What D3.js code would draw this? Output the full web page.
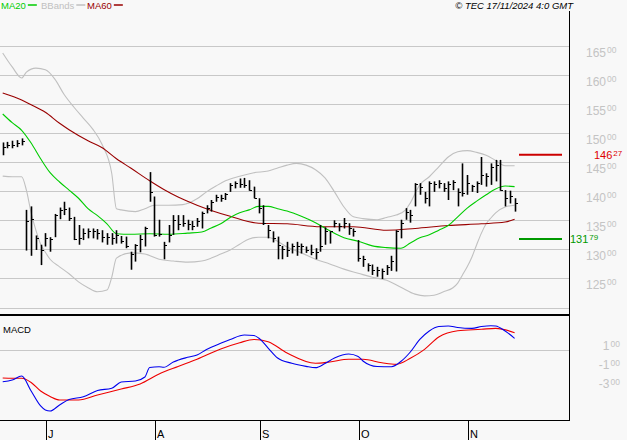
<!DOCTYPE html>
<html>
<head>
<meta charset="utf-8">
<script src="https://cdn.jsdelivr.net/npm/d3@7"></script>
<style>
  body { margin: 0; background: #f8f8f8; }
  text { font-family: "Liberation Sans", Arial, sans-serif; }
</style>
</head>
<body>
<div id="chart"></div>
<script>
// daily bars, 18 Jun -> 15 Nov 2024 (index 0..108)
const high = [148.4,148.5,148.7,148.8,149.1, 136.8,137.4,132.4,130.8,132.8,
  132.1,136.1,137.2,138.2,137.2, 135.6,134.2,133.6,133.6,133.6,
  133.5,133.3,132.8,132.8,133.3, 132.3,132.2,129.6,130.9,132.5,
  133.9,143.3,139.1,135.1,131.3, 134.2,135.9,135.9,135.9,135.1,
  134.9,135.4,136.5,137.6,138.5, 139.4,139.4,139.7,141.4,141.7,
  142.2,142.3,141.9,140.8,138.8, 137.6,134.2,133.1,132.2,130.6,
  131.3,131.0,131.3,131.0,130.5, 130.8,130.2,134.2,133.8,133.1,
  135.0,134.5,135.4,134.5,133.6, 131.6,128.9,127.6,127.4,127.0,
  126.7,127.3,128.9,133.3,135.1, 137.1,136.8,141.4,141.4,139.9,
  141.7,141.7,141.9,141.4,141.7, 141.9,140.5,144.8,142.8,141.1,
  141.7,145.9,143.1,144.8,145.4, 145.4,140.2,140.1,138.8];
const low = [146.2,147.4,147.4,147.6,147.9, 129.8,128.9,129.9,127.3,130.5,
  129.6,132.1,135.2,135.9,134.9, 131.6,130.8,131.6,131.9,131.9,
  131.7,131.2,130.8,130.8,131.0, 131.0,130.2,126.5,127.9,129.5,
  130.5,138.2,132.2,132.2,128.3, 131.2,132.5,133.3,133.9,133.3,
  133.3,133.9,133.6,136.2,136.5, 138.2,138.2,138.5,139.9,140.5,
  140.6,140.6,140.1,138.8,136.2, 134.2,131.9,131.2,128.3,128.3,
  128.7,129.3,128.9,129.3,129.4, 129.0,128.3,129.6,130.8,131.0,
  133.8,133.1,133.6,132.5,132.2, 127.9,127.0,126.2,125.6,125.3,
  124.9,125.6,126.3,126.2,131.9, 135.1,134.6,137.4,139.4,137.9,
  137.4,139.9,140.5,139.9,138.5, 140.2,137.4,139.1,139.4,139.9,
  139.7,141.1,140.8,141.1,141.7, 140.1,137.4,137.9,136.5];
const close = [147.6,147.9,148.0,148.3,148.6, 134.9,135.2,131.9,129.9,131.9,
  131.8,135.9,136.8,137.0,135.4, 131.8,131.9,132.8,133.1,133.1,
  132.8,132.2,132.2,131.9,132.5, 131.5,130.5,129.2,130.8,131.8,
  133.6,139.9,132.5,132.6,130.8, 132.4,135.1,134.3,134.5,134.3,
  134.1,134.8,136.2,137.2,138.2, 139.0,138.8,139.5,141.0,141.4,
  141.3,141.0,140.2,138.9,137.1, 134.5,133.3,131.9,130.8,130.0,
  129.9,130.5,130.6,130.5,129.9, 129.6,129.6,130.5,133.1,133.1,
  134.6,134.0,134.6,133.6,133.1, 128.6,128.3,127.3,126.5,126.4,
  126.3,127.0,128.0,133.1,134.6, 136.5,136.0,141.2,140.8,138.8,
  141.5,141.2,141.4,140.5,141.3, 141.6,139.9,139.7,141.4,140.9,
  141.5,142.8,142.6,144.2,144.5, 140.2,138.8,139.2,137.9];

// overlays: [bar index, value]
const ma20 = [[0,153.3],[2,151.8],[4,150.5],[6,148.3],[8,145.6],[10,143.2],[12,141.6],
  [14,140.2],[16,138.8],[18,137.0],[20,135.8],[22,134.4],[24,132.7],[27,132.6],
  [31,132.7],[35,132.6],[39,132.8],[42,133.0],[44,133.7],[46,134.4],[48,135.5],
  [50,136.3],[52,136.8],[54,137.4],[56,137.4],[58,137.0],[60,136.6],[63,135.7],
  [66,134.6],[69,133.2],[72,132.0],[75,131.4],[78,130.6],[81,130.3],[84,130.2],
  [86,131.1],[88,132.0],[90,132.5],[92,133.3],[94,134.1],[96,135.6],[98,137.1],
  [100,138.3],[102,139.4],[104,140.4],[106,140.9],[108,140.8]];
const ma60 = [[0,156.9],[4,155.7],[6,154.9],[9,153.6],[12,151.7],[14,150.6],[18,148.7],
  [21,147.5],[24,145.6],[27,144.0],[31,141.8],[34,140.3],[37,139.0],[41,137.6],
  [44,136.7],[48,135.7],[54,134.5],[60,134.4],[67,133.9],[74,133.9],[81,133.3],
  [87,133.6],[94,134.1],[101,134.4],[106,134.7],[108,135.2]];
const bbUpper = [[0,163.8],[2,161.4],[4,159.5],[5,160.5],[7,161.2],[9,160.9],[11,159.3],
  [13,156.6],[15,154.5],[17,152.6],[19,150.7],[21,148.0],[23,143.1],[24,137.0],
  [25,136.8],[28,136.5],[30,137.0],[32,137.6],[35,137.6],[38,137.7],[41,138.7],
  [43,139.9],[45,140.9],[47,141.8],[50,142.6],[53,143.2],[56,143.5],[58,144.0],
  [60,144.5],[62,144.8],[64,144.5],[66,143.7],[68,142.3],[70,139.9],[72,137.3],
  [74,135.6],[76,135.3],[79,135.1],[81,135.5],[83,135.9],[85,136.8],[86,138.0],
  [88,141.1],[90,142.5],[92,144.2],[94,145.9],[96,146.8],[98,147.0],[100,146.7],
  [102,146.2],[104,145.3],[106,144.4],[108,144.4]];
const bbLower = [[0,142.6],[2,142.5],[4,142.5],[5,140.2],[6,136.3],[7,133.3],[8,130.9],
  [9,129.5],[10,128.3],[12,127.0],[14,125.8],[16,124.4],[18,123.4],[20,122.7],
  [22,123.0],[23,125.2],[24,128.5],[27,129.4],[30,129.2],[33,128.3],[36,128.0],
  [39,127.8],[42,128.0],[44,128.5],[46,129.2],[48,129.9],[50,130.9],[52,131.8],
  [54,132.1],[56,132.1],[58,131.4],[60,130.4],[63,129.4],[66,128.3],[69,127.5],
  [72,126.6],[75,125.9],[78,125.2],[81,124.7],[84,123.5],[87,122.3],[89,122.0],
  [91,122.1],[93,122.7],[95,123.4],[96,124.2],[97,125.6],[98,127.0],[99,128.7],
  [100,130.8],[101,132.8],[102,134.4],[103,135.4],[104,136.3],[106,137.3],[108,137.6]];

const macd = [[0,-3.35],[2,-3.16],[4,-2.74],[6,-4.32],[8,-5.89],[9,-6.32],[10,-6.42],
  [12,-5.79],[14,-5.21],[17,-4.92],[20,-4.26],[23,-4.03],[25,-3.37],[28,-3.26],
  [30,-2.84],[31,-1.84],[33,-1.76],[34,-1.82],[36,-1.26],[39,-0.77],[41,-0.53],
  [43,0.05],[46,0.71],[48,1.11],[51,1.58],[53,1.53],[54,1.26],[56,0.21],[58,-0.84],
  [61,-1.40],[64,-1.72],[66,-1.86],[68,-1.42],[70,-0.84],[73,-0.42],[75,-0.68],
  [76,-1.16],[79,-1.74],[82,-1.76],[84,-1.21],[86,-0.21],[88,1.11],[90,2.00],
  [92,2.47],[94,2.53],[96,2.37],[99,2.28],[101,2.47],[103,2.56],[104,2.53],
  [106,2.00],[108,1.23]];
const signal = [[0,-2.95],[2,-2.98],[4,-2.98],[6,-3.42],[8,-4.32],[10,-4.89],[12,-5.26],
  [16,-5.26],[20,-4.74],[25,-4.11],[29,-3.58],[33,-2.53],[37,-1.74],[41,-0.98],
  [46,0.11],[50,0.77],[53,1.11],[56,0.87],[60,-0.32],[66,-1.40],[69,-1.26],
  [73,-0.98],[76,-0.98],[80,-1.34],[83,-1.51],[86,-0.87],[89,0.07],[92,1.37],
  [96,2.03],[101,2.18],[104,2.28],[108,1.82]];

const months = ["J", "A", "S", "O", "N"];
const monthIdx = [9, 32, 54, 75, 98];
const priceTicks = [125, 130, 135, 140, 145, 150, 155, 160, 165];
const priceGrid = [120, 125, 130, 135, 140, 145, 150, 155, 160, 165];
const macdTicks = [1, -1, -3];
const resistance = 146.27;
const support = 131.79;

// layout
const W = 627, H = 440;
const plotRight = 569.5;

const svg = d3.select("#chart").append("svg")
  .attr("width", W).attr("height", H)
  .style("background", "#f8f8f8");

const x = d3.scaleLinear([0, 108], [2.7, 514.6]);
const y = d3.scaleLinear([120, 165], [307.5, 46]);
const ym = d3.scaleLinear([0, 1], [350, 340.5]);

// split "146.27" -> "146" + superscript "27"
function splitNum(v) {
  const s = v.toFixed(2);
  const p = s.split(".");
  return [p[0], p[1]];
}

function numLabel(g, v, px, py, color, big, small) {
  const [a, b] = splitNum(v);
  const t = g.append("text")
    .attr("x", px).attr("y", py)
    .attr("fill", color)
    .style("font-size", big + "px");
  t.append("tspan").text(a);
  t.append("tspan").attr("dx", 1).attr("dy", -3.5)
    .style("font-size", small + "px").text(b);
}

// grid - price
svg.append("g").selectAll("line")
  .data(priceGrid).join("line")
  .attr("x1", 0).attr("x2", plotRight)
  .attr("y1", (d) => Math.round(y(d)) + 0.5)
  .attr("y2", (d) => Math.round(y(d)) + 0.5)
  .attr("stroke", "#c8c8c8");

const axisLabels = svg.append("g");
priceTicks.forEach((d) => {
  numLabel(axisLabels, d, 586, Math.round(y(d)) + 10.5, "#c4c4c4", 12, 8.5);
});

// grid - macd
svg.append("line")
  .attr("x1", 0).attr("x2", plotRight)
  .attr("y1", Math.round(ym(0)) + 0.5).attr("y2", Math.round(ym(0)) + 0.5)
  .attr("stroke", "#c8c8c8");
macdTicks.forEach((d) => {
  const [a, b] = splitNum(d);
  const t = axisLabels.append("text")
    .attr("x", 620).attr("y", ym(d) + 9.5)
    .attr("text-anchor", "end")
    .attr("fill", "#c4c4c4")
    .style("font-size", "12px");
  t.append("tspan").text(a);
  t.append("tspan").attr("dx", 1).attr("dy", -3.5)
    .style("font-size", "8.5px").text(b);
});

// overlays
const clip = svg.append("clipPath").attr("id", "priceClip")
  .append("rect").attr("x", 0).attr("y", 11).attr("width", plotRight).attr("height", 303);

const line = d3.line()
  .x((d) => x(d[0]))
  .y((d) => y(d[1]))
  .curve(d3.curveMonotoneX);

const over = svg.append("g").attr("clip-path", "url(#priceClip)");
[[bbUpper, "#c0c0c0"], [bbLower, "#c0c0c0"], [ma60, "#990000"], [ma20, "#00cc00"]]
  .forEach(([d, c]) => {
    over.append("path").attr("d", line(d))
      .attr("fill", "none").attr("stroke", c).attr("stroke-width", 1.1);
  });

// bars
const bars = svg.append("g").attr("stroke", "#000");
bars.selectAll("line.hl")
  .data(high).join("line")
  .attr("class", "hl")
  .attr("x1", (d, i) => Math.round(x(i)) + 0.5)
  .attr("x2", (d, i) => Math.round(x(i)) + 0.5)
  .attr("y1", (d) => y(d))
  .attr("y2", (d, i) => y(low[i]))
  .attr("stroke-width", 1.6);
bars.selectAll("line.cl")
  .data(close).join("line")
  .attr("class", "cl")
  .attr("x1", (d, i) => Math.round(x(i)) + 0.5)
  .attr("x2", (d, i) => Math.round(x(i)) + 3)
  .attr("y1", (d) => Math.round(y(d)) + 0.5)
  .attr("y2", (d) => Math.round(y(d)) + 0.5)
  .attr("stroke-width", 1);

// support / resistance
svg.append("line")
  .attr("x1", 519).attr("x2", 562)
  .attr("y1", y(resistance)).attr("y2", y(resistance))
  .attr("stroke", "#cc0000").attr("stroke-width", 2);
numLabel(svg, resistance, 594, y(resistance) + 4.5, "#dd0000", 11, 8);
svg.append("line")
  .attr("x1", 519).attr("x2", 562)
  .attr("y1", y(support)).attr("y2", y(support))
  .attr("stroke", "#009900").attr("stroke-width", 2);
numLabel(svg, support, 570, y(support) + 4.5, "#009900", 11, 8);

// macd lines
const mline = d3.line()
  .x((d) => x(d[0]))
  .y((d) => ym(d[1]))
  .curve(d3.curveMonotoneX);
svg.append("path").attr("d", mline(signal))
  .attr("fill", "none").attr("stroke", "#ee0000").attr("stroke-width", 1.1);
svg.append("path").attr("d", mline(macd))
  .attr("fill", "none").attr("stroke", "#0000ee").attr("stroke-width", 1.1);

// frames
svg.append("line")
  .attr("x1", plotRight).attr("x2", plotRight)
  .attr("y1", 11).attr("y2", 421)
  .attr("stroke", "#000");
svg.append("line")
  .attr("x1", 0).attr("x2", plotRight + 0.5)
  .attr("y1", 315).attr("y2", 315)
  .attr("stroke", "#000").attr("stroke-width", 2);
svg.append("line")
  .attr("x1", 0).attr("x2", plotRight + 0.5)
  .attr("y1", 420.5).attr("y2", 420.5)
  .attr("stroke", "#000");

// month ticks
const mt = svg.append("g");
mt.selectAll("line")
  .data(monthIdx).join("line")
  .attr("x1", (d) => Math.round(x(d)) + 1.5)
  .attr("x2", (d) => Math.round(x(d)) + 1.5)
  .attr("y1", 421).attr("y2", 440)
  .attr("stroke", "#000");
mt.selectAll("text")
  .data(monthIdx).join("text")
  .attr("x", (d) => Math.round(x(d)) + 3)
  .attr("y", 438)
  .style("font-size", "11px")
  .text((d, i) => months[i]);

// titles
svg.append("text").attr("x", 3).attr("y", 333)
  .style("font-size", "9.5px").text("MACD");

const legend = [
  { name: "MA20", color: "#00cc00", x: 1 },
  { name: "BBands", color: "#c0c0c0", x: 41 },
  { name: "MA60", color: "#990000", x: 87 }
];
legend.forEach((l) => {
  const t = svg.append("text").attr("x", l.x).attr("y", 8.5)
    .attr("fill", l.color).style("font-size", "9.5px").text(l.name);
  const w = t.node().getComputedTextLength();
  svg.append("line")
    .attr("x1", l.x + w + 2).attr("x2", l.x + w + 11)
    .attr("y1", 5).attr("y2", 5)
    .attr("stroke", l.color).attr("stroke-width", 1.5);
});

svg.append("text").attr("x", 573).attr("y", 8.5)
  .attr("text-anchor", "end")
  .style("font-size", "9.5px").style("font-style", "italic")
  .text("© TEC 17/11/2024 4:0 GMT");
</script>
</body>
</html>
